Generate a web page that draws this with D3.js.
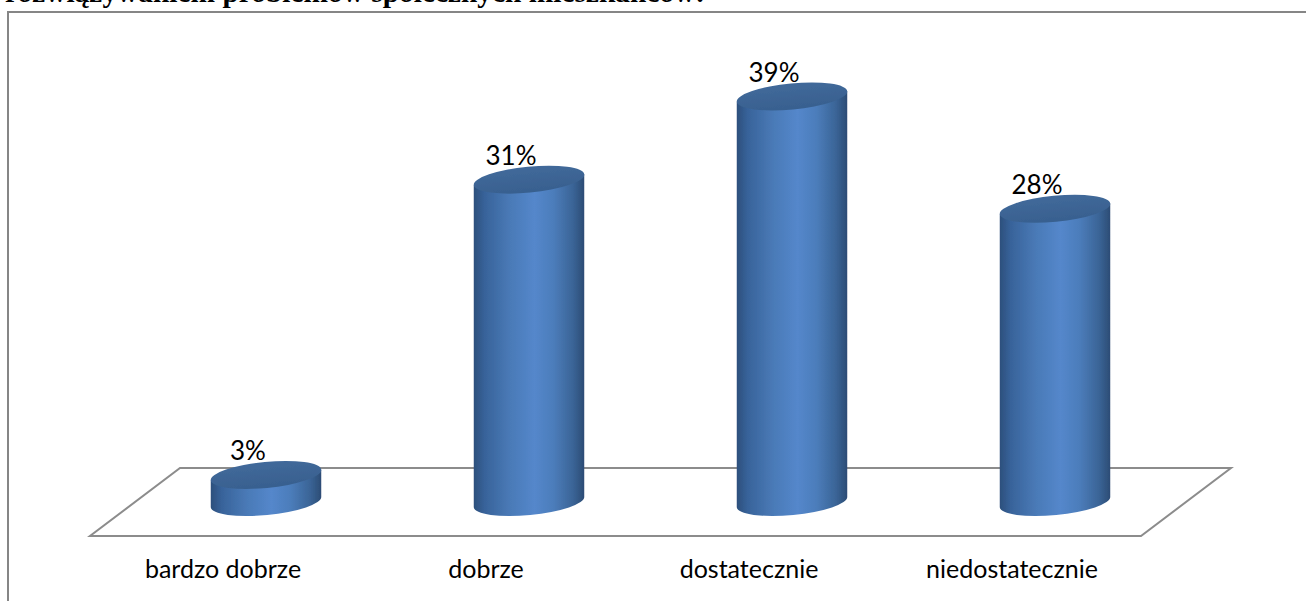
<!DOCTYPE html>
<html><head><meta charset="utf-8"><script src="https://cdn.jsdelivr.net/npm/d3@7"></script>
<style>html,body{margin:0;padding:0;background:#fff;overflow:hidden}svg{display:block}</style></head>
<body><svg id="c" width="1306" height="601"></svg>
<script>
const categories=["bardzo dobrze","dobrze","dostatecznie","niedostatecznie"];
const values=[0.026,0.31,0.39,0.282];
const W=1306,H=601;
const svg=d3.select("#c");
const defs=svg.append("defs");
const grad=defs.append("linearGradient").attr("id","side").attr("x1","0").attr("x2","1").attr("y1","0").attr("y2","0");
[[0,"#2c4f7c"],[0.1,"#38639a"],[0.33,"#4a7ab7"],[0.55,"#5487cb"],[0.72,"#4c7dbb"],[0.9,"#3a6496"],[1,"#2c4c75"]].forEach(d=>grad.append("stop").attr("offset",d[0]).attr("stop-color",d[1]));
const blur=defs.append("filter").attr("id","soft").attr("x","-5%").attr("y","-5%").attr("width","110%").attr("height","110%");
blur.append("feGaussianBlur").attr("stdDeviation",0.5);
const capGrad=defs.append("linearGradient").attr("id","cap").attr("x1","0").attr("x2","0").attr("y1","0").attr("y2","1");
capGrad.append("stop").attr("offset",0).attr("stop-color","#41699a");
capGrad.append("stop").attr("offset",1).attr("stop-color","#38608f");
// title fragment
svg.append("text").attr("x",5).attr("y",2).attr("font-family","Liberation Serif").attr("font-weight","bold").attr("font-size",29.4).attr("fill","#000").text("rozwiązywaniem problemów społecznych mieszkańców:");
// frame
svg.append("path").attr("d","M8,601V12H1306").attr("fill","none").attr("stroke","#868686").attr("stroke-width",2);
// floor
const x=d3.scalePoint().domain(categories).range([266,1055]);
const y=d3.scaleLinear().domain([0,0.39]).range([502,96.5]);
svg.append("path").attr("d","M90,536H1141L1231,468H180Z").attr("fill","#fff").attr("stroke","#8c8c8c").attr("stroke-width",2);
const rx=55.5,ry=13,rot=-5.5;
const dx=rx*Math.cos(rot*Math.PI/180),dy=-rx*Math.sin(rot*Math.PI/180);
const g=svg.selectAll("g.b").data(categories.map((c,i)=>({c,v:values[i]}))).join("g").attr("class","b").attr("filter","url(#soft)");
g.append("path").attr("fill","url(#side)").attr("d",d=>{
  const cx=x(d.c),t=y(d.v),b=y(0);
  return `M${cx-dx},${t+dy}L${cx-dx},${b+dy}A${rx},${ry} ${rot} 0 0 ${cx+dx},${b-dy}L${cx+dx},${t-dy}Z`;
});
g.append("ellipse").attr("cx",d=>x(d.c)).attr("cy",d=>y(d.v)).attr("rx",rx).attr("ry",ry).attr("fill","url(#cap)").attr("transform",d=>`rotate(${rot} ${x(d.c)} ${y(d.v)})`);
svg.selectAll("text.val").data(categories.map((c,i)=>({c,v:values[i]}))).join("text").attr("class","val").attr("x",d=>x(d.c)-18).attr("y",d=>y(d.v)-15).attr("text-anchor","middle").attr("font-family","Lato").attr("font-size",26).attr("fill","#000").text(d=>d3.format(".0%")(d.v));
svg.selectAll("text.cat").data(categories).join("text").attr("class","cat").attr("x",d=>x(d)-43).attr("y",578).attr("text-anchor","middle").attr("font-family","Lato").attr("font-size",25).attr("fill","#000").text(d=>d);
</script></body></html>
